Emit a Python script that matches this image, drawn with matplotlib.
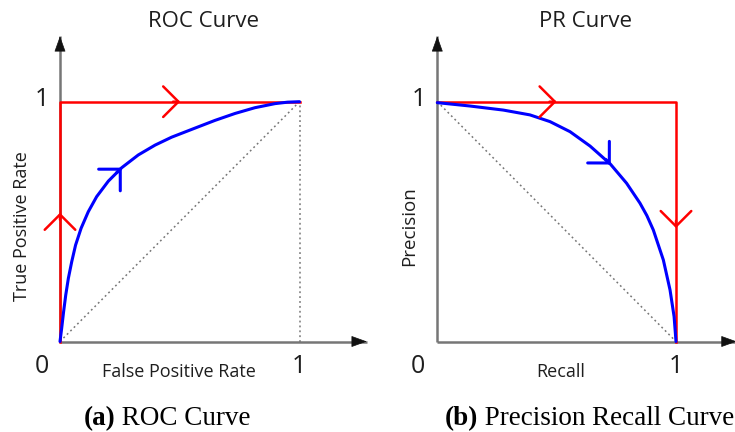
import numpy as np
import matplotlib.pyplot as plt
from matplotlib.patches import ArrowStyle

# ---------------------------------------------------------------
# curvas (eixos normalizados 0..1)
roc_fpr = [0.0, 0.007, 0.015, 0.024, 0.035, 0.049, 0.065, 0.088, 0.118, 0.153,
           0.202, 0.258, 0.327, 0.397, 0.466, 0.564, 0.647, 0.731, 0.814,
           0.898, 0.950, 1.0]
roc_tpr = [0.0, 0.055, 0.124, 0.194, 0.264, 0.333, 0.402, 0.472, 0.541, 0.604,
           0.669, 0.725, 0.778, 0.819, 0.852, 0.890, 0.922, 0.951, 0.975,
           0.992, 0.998, 1.0]

pr_recall = [0.0, 0.137, 0.277, 0.388, 0.472, 0.556, 0.640, 0.725, 0.793,
             0.849, 0.878, 0.905, 0.947, 0.975, 0.992, 1.0]
pr_precision = [0.996, 0.982, 0.965, 0.945, 0.917, 0.875, 0.815, 0.740, 0.660,
                0.577, 0.525, 0.465, 0.340, 0.215, 0.104, 0.0]

# curva "perfeita" (vermelha)
roc_ideal_x = [0, 0, 1]
roc_ideal_y = [0, 1, 1]
pr_ideal_x = [0, 1, 1]
pr_ideal_y = [1, 1, 0]

# setas de direcao: x, y, angulo
roc_red_arrows = [(0.0, 0.537, 90), (0.502, 1.0, 0)]
roc_blue_arrows = [(0.258, 0.725, 45)]
pr_red_arrows = [(0.5, 1.0, 0), (1.0, 0.473, -90)]
pr_blue_arrows = [(0.727, 0.738, -45)]

# ---------------------------------------------------------------
W, H = 735, 432
fig = plt.figure(figsize=(W / 100, H / 100), dpi=100)

RED = '#ff0000'
BLUE = '#0000ff'
GREY = '#767676'
TXT = '#1e1e1e'
SANS = 'Open Sans'
SERIF = 'Liberation Serif'


def painel(ox, oy, sx, sy):
    x0, x1, y0, y1 = -0.25, 1.3, -0.35, 1.35
    l = ox + sx * x0
    r = ox + sx * x1
    t = oy - sy * y1
    b = oy - sy * y0
    ax = fig.add_axes([l / W, 1 - b / H, (r - l) / W, (b - t) / H])
    ax.set_xlim(x0, x1)
    ax.set_ylim(y0, y1)
    ax.axis('off')
    return ax


def eixos(ax, xtip, ytip):
    ax.plot([0, xtip], [0, 0], color=GREY, lw=1.8, solid_capstyle='butt', zorder=2)
    ax.plot([0, 0], [0, ytip], color=GREY, lw=1.8, solid_capstyle='butt', zorder=2)
    estilo = ArrowStyle('-|>', head_length=10, head_width=3.6)
    for xy, xyt in [((xtip, 0), (xtip - 0.05, 0)), ((0, ytip), (0, ytip - 0.05))]:
        ax.annotate('', xy=xy, xytext=xyt, annotation_clip=False,
                    arrowprops=dict(arrowstyle=estilo, mutation_scale=1,
                                    color='#111111', lw=0.5,
                                    shrinkA=0, shrinkB=0), zorder=3)


def setas(ax, lista, cor, lw):
    estilo = ArrowStyle('->', head_length=11, head_width=11)
    for x, y, ang in lista:
        a = np.deg2rad(ang)
        ax.annotate('', xy=(x, y),
                    xytext=(x - 0.03 * np.cos(a), y - 0.03 * np.sin(a)),
                    annotation_clip=False,
                    arrowprops=dict(arrowstyle=estilo, mutation_scale=1,
                                    color=cor, lw=lw, shrinkA=0, shrinkB=0),
                    zorder=5)


def ftext(x, y, s, **kw):
    return fig.text(x / W, 1 - y / H, s, **kw)


# ---------------- ROC ----------------
ax1 = painel(60, 341.5, 239.5, 239.8)
ax1.plot([0, 1], [0, 1], color=GREY, lw=1.1, ls=(0, (1.2, 2)), zorder=1)
ax1.plot([1, 1], [0, 1], color=GREY, lw=1.1, ls=(0, (1.2, 2)), zorder=1)
eixos(ax1, 1.281, 1.273)
ax1.plot(roc_ideal_x, roc_ideal_y, color=RED, lw=1.8, zorder=4)
ax1.plot(roc_fpr, roc_tpr, color=BLUE, lw=2.2, zorder=4,
         solid_capstyle='round', solid_joinstyle='round')
setas(ax1, roc_red_arrows, RED, 1.8)
setas(ax1, roc_blue_arrows, BLUE, 2.2)

# ---------------- PR ----------------
ax2 = painel(437.3, 341.5, 238.7, 239.8)
ax2.plot([0, 1], [1, 0], color=GREY, lw=1.1, ls=(0, (1.2, 2)), zorder=1)
eixos(ax2, 1.254, 1.273)
ax2.plot(pr_ideal_x, pr_ideal_y, color=RED, lw=1.8, zorder=4)
ax2.plot(pr_recall, pr_precision, color=BLUE, lw=2.2, zorder=4,
         solid_capstyle='round', solid_joinstyle='round')
setas(ax2, pr_red_arrows, RED, 1.8)
setas(ax2, pr_blue_arrows, BLUE, 2.2)

# ---------------- textos ----------------
ftext(203.5, 27.3, 'ROC Curve', ha='center', va='baseline', size=16, family=SANS, color=TXT)
ftext(585.3, 27.3, 'PR Curve', ha='center', va='baseline', size=16, family=SANS, color=TXT)

for x0 in (41.7, 418.3):
    ftext(x0, 373.3, '0', ha='center', va='baseline', size=18, family=SANS, color=TXT)
    ftext(x0 + 0.6, 105.5, '1', ha='center', va='baseline', size=18, family=SANS, color=TXT)
ftext(299, 373.3, '1', ha='center', va='baseline', size=18, family=SANS, color=TXT)
ftext(675.5, 373.3, '1', ha='center', va='baseline', size=18, family=SANS, color=TXT)

ftext(178.5, 376.7, 'False Positive Rate', ha='center', va='baseline', size=13, family=SANS, color=TXT)
ftext(560.8, 376.7, 'Recall', ha='center', va='baseline', size=13, family=SANS, color=TXT)
ftext(27.3, 226, 'True Positive Rate', rotation=90, rotation_mode='anchor',
      ha='center', va='baseline', size=13, family=SANS, color=TXT)
ftext(414, 226.5, 'Precision', rotation=90, rotation_mode='anchor',
      ha='center', va='baseline', size=13.5, family=SANS, color=TXT)

# legendas (a) e (b)
for x0, letra, resto in [(83.3, '(a)', ' ROC Curve'), (445, '(b)', ' Precision Recall Curve')]:
    t = ftext(x0, 425, letra, ha='left', va='baseline', size=19.5,
              family=SERIF, weight='bold', color='black')
    ax1.annotate(resto, xy=(1, 0), xycoords=t, ha='left', va='bottom',
                 size=19.5, family=SERIF, color='black', annotation_clip=False)

fig.savefig('out.png', dpi=100)
